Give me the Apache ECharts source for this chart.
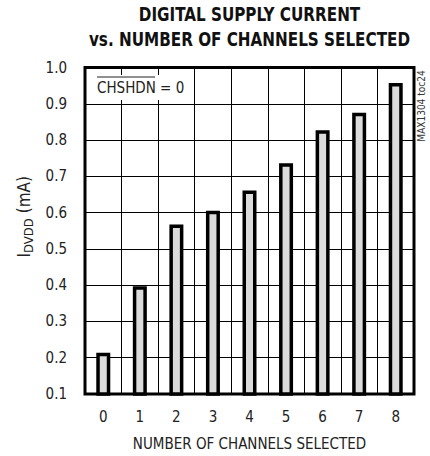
<!DOCTYPE html>
<html>
<head>
<meta charset="utf-8">
<script src="https://cdn.jsdelivr.net/npm/echarts@6/dist/echarts.min.js"></script>
<style>
html,body{margin:0;padding:0;background:#fff;}
#chart{width:430px;height:456px;}
</style>
</head>
<body>
<div id="chart"></div>
<script>
const categories = ['0','1','2','3','4','5','6','7','8'];
const currentMA = [0.214, 0.397, 0.567, 0.605, 0.661, 0.736, 0.827, 0.875, 0.957];
const titleLines = ['DIGITAL SUPPLY CURRENT', 'vs. NUMBER OF CHANNELS SELECTED'];
const xAxisName = 'NUMBER OF CHANNELS SELECTED';
const conditionText = 'CHSHDN';
const conditionValue = ' = 0';
const sideNote = 'MAX1304 toc24';

const NARROW = "'DejaVu Sans Condensed', 'Liberation Sans', sans-serif";

const chart = echarts.init(document.getElementById('chart'), null, {renderer: 'svg'});
chart.setOption({
  backgroundColor: '#fff',
  animation: false,
  grid: {left: 85, right: 16, top: 67.5, bottom: 60, show: true, borderColor: '#000', borderWidth: 3, backgroundColor: 'transparent', z: 3},
  xAxis: {
    type: 'category',
    data: categories,
    boundaryGap: true,
    name: xAxisName,
    nameLocation: 'middle',
    nameGap: 42,
    nameTextStyle: {fontFamily: NARROW, fontSize: 15, color: '#222'},
    axisLine: {show: false},
    axisTick: {show: false},
    axisLabel: {fontFamily: NARROW, fontSize: 15, color: '#222', margin: 15},
    splitLine: {show: true, interval: 0, lineStyle: {color: '#000', width: 1}}
  },
  yAxis: {
    type: 'value',
    min: 0.1,
    max: 1.0,
    interval: 0.1,
    name: 'I{sub|DVDD} (mA)',
    nameLocation: 'middle',
    nameGap: 46,
    nameRotate: 90,
    nameTextStyle: {fontFamily: NARROW, fontSize: 17, color: '#222', padding: [0, 0, 0, 28],
      rich: {sub: {fontFamily: NARROW, fontSize: 13, color: '#222', padding: [8, 0, 0, 0]}}},
    axisLine: {show: false},
    axisTick: {show: false},
    axisLabel: {fontFamily: NARROW, fontSize: 15, color: '#222', margin: 18,
      formatter: v => v.toFixed(1)},
    splitLine: {show: true, lineStyle: {color: '#000', width: 1}}
  },
  series: [{
    type: 'bar',
    data: currentMA,
    barWidth: 14,
    z: 4,
    itemStyle: {color: '#dcdcdc', borderColor: '#000', borderWidth: 3.5}
  }],
  graphic: [
    {type: 'text', z: 100, x: 249.5, y: 5, scaleX: 0.89, style: {text: titleLines[0], fontFamily: NARROW, fontWeight: 'bold', fontSize: 19, fill: '#111', align: 'center', verticalAlign: 'top'}},
    {type: 'text', z: 100, x: 249.5, y: 30, scaleX: 0.89, style: {text: titleLines[1], fontFamily: NARROW, fontWeight: 'bold', fontSize: 19, fill: '#111', align: 'center', verticalAlign: 'top'}},
    {type: 'rect', z: 50, shape: {x: 87, y: 75, width: 104, height: 25}, style: {fill: '#fff'}},
    {type: 'text', z: 100, x: 97, y: 88, style: {text: conditionText + conditionValue, fontFamily: NARROW, fontSize: 15, fill: '#222', align: 'left', verticalAlign: 'middle'}},
    {type: 'line', z: 100, shape: {x1: 97, y1: 77, x2: 155, y2: 77}, style: {stroke: '#222', lineWidth: 1}},
    {type: 'text', z: 100, x: 421, y: 106, rotation: Math.PI / 2, style: {text: sideNote, fontFamily: NARROW, fontSize: 10, fill: '#333', align: 'center', verticalAlign: 'middle'}}
  ]
});
</script>
</body>
</html>
